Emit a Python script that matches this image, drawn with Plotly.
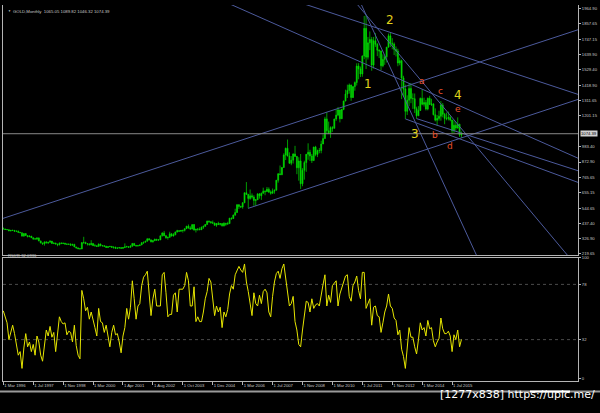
import plotly.graph_objects as go
from plotly.subplots import make_subplots

# ------------------------------------------------------------------ data
tick_bars = [0, 16, 32, 48, 64, 80, 96, 112, 128, 144, 160, 176, 192, 208, 224, 240]
tick_labels = ["1 Mar 1996", "1 Jul 1997", "1 Nov 1998", "1 Mar 2000", "1 Apr 2001",
               "1 Aug 2002", "1 Oct 2003", "1 Dec 2004", "1 Mar 2006", "1 Jul 2007",
               "1 Nov 2008", "1 Mar 2010", "1 Jul 2011", "1 Nov 2012", "1 Mar 2014",
               "1 Jul 2015"]
price_ticks = [1964.90, 1857.65, 1747.15, 1639.90, 1529.40, 1418.90, 1311.65, 1201.15,
               983.40, 872.90, 765.65, 655.15, 544.65, 437.40, 326.90, 219.65]
last_price = 1074.39
title_text = "GOLD,Monthly  1065.05 1089.82 1046.32 1074.39"
rsi_title = "RSI(8) 32.0936"
rsi_ticks = [100, 78, 32, 0]
rsi_levels = [78, 32]

first_open = 397.0
high = [407, 397, 395, 391, 388, 390, 387, 386, 385, 374,
        370, 366, 358, 349, 350, 346, 335, 329, 335, 335, 312, 298,
        305, 306, 303, 315, 302, 298, 297, 291, 300, 302, 299, 297,
        293, 292, 294, 290, 290, 268, 264, 260, 300, 340, 305, 294,
        293, 316,
        293, 289, 279, 293, 292, 282, 278, 275, 271, 275, 272, 269, 268, 264, 266, 264,
        266, 293, 276, 272, 280, 294, 294, 282, 282, 284, 303, 303, 310, 328, 330, 322,
        316, 326, 324, 323, 349, 372, 382, 352, 341, 376, 365, 366, 376, 390, 386, 389,
        390, 400, 417, 428, 415, 427, 431, 396, 401, 408, 413, 419, 430, 455, 456, 452,
        456, 442, 437, 447, 437, 436, 443, 437, 447, 474, 478, 498, 540, 573, 573, 562,
        587, 654, 730, 643, 677, 649, 636, 608, 649, 650,
        655, 690, 671, 695, 692, 671, 684, 676, 744, 793, 848, 836,
        935, 975, 1033, 942, 915, 935, 988, 916, 907, 930, 829, 882,
        930, 1006, 960, 930, 982, 988, 961, 973, 1025, 1070, 1195, 1227,
        1161, 1127, 1128, 1181, 1249, 1265, 1243, 1250, 1310, 1388, 1424, 1432,
        1424, 1411, 1447, 1576, 1577, 1553, 1632, 1913, 1921, 1764, 1803, 1764,
        1764, 1791, 1720, 1676, 1667, 1640, 1630, 1693, 1788, 1796, 1755, 1725,
        1696, 1680, 1617, 1603, 1487, 1424, 1348, 1433, 1434, 1362, 1361, 1267,
        1271, 1332, 1392, 1331, 1315, 1332, 1345, 1323, 1291, 1255, 1208, 1238,
        1307, 1293, 1223, 1225, 1232, 1206, 1174, 1170, 1157, 1191, 1145, 1089.82]
low = [395, 389, 388, 381, 379, 384, 378, 377, 370, 367,
       342, 341, 347, 337, 339, 333, 318, 319, 317, 308, 294, 283,
       277, 294, 289, 300, 289, 288, 287, 273, 278, 288, 289, 285,
       283, 282, 279, 278, 267, 257, 252, 251, 252, 290, 288, 278,
       280, 280,
       275, 272, 268, 270, 273, 271, 267, 263, 261, 267, 262, 255, 255, 256, 257, 255,
       255, 263, 265, 262, 264, 271, 276, 271, 272, 276, 281, 289, 299, 307, 315, 301,
       299, 311, 313, 314, 317, 343, 346, 326, 320, 334, 342, 342, 352, 370, 374, 376,
       370, 378, 396, 398, 390, 393, 385, 371, 383, 387, 388, 396, 411, 426, 440, 435,
       432, 420, 411, 424, 421, 414, 414, 418, 429, 432, 461, 467, 489, 515, 539, 545,
       540, 582, 638, 543, 604, 612, 561, 560, 602, 612,
       603, 648, 636, 661, 652, 640, 648, 647, 671, 726, 780, 779,
       833, 887, 913, 860, 850, 862, 909, 786, 740, 681, 700, 747,
       803, 889, 880, 866, 884, 914, 908, 935, 935, 1001, 1041, 1075,
       1072, 1045, 1088, 1111, 1166, 1199, 1155, 1180, 1242, 1314, 1329, 1360,
       1309, 1329, 1381, 1418, 1462, 1478, 1480, 1605, 1535, 1603, 1670, 1523,
       1539, 1693, 1627, 1613, 1527, 1548, 1565, 1582, 1689, 1692, 1676, 1635,
       1625, 1555, 1562, 1321, 1338, 1180, 1208, 1271, 1292, 1251, 1222, 1182,
       1202, 1237, 1277, 1268, 1240, 1241, 1280, 1272, 1205, 1162, 1131, 1168,
       1167, 1191, 1142, 1170, 1169, 1163, 1077, 1080, 1097, 1110, 1052, 1046.32]
close = [396, 392, 391, 382, 386, 386, 379, 379, 372, 369,
         345, 363, 349, 340, 345, 334, 326, 325, 332, 311, 296, 290,
         304, 297, 301, 309, 293, 296, 288, 284, 294, 292, 294, 288,
         287, 287, 280, 286, 268, 261, 255, 254, 299, 300, 291, 290,
         283, 293,
         277, 276, 272, 288, 276, 277, 273, 264, 270, 272, 265, 267, 258, 260, 263, 258,
         263, 268, 270, 265, 273, 293, 279, 275, 277, 282, 297, 302, 309, 326, 318, 304,
         312, 323, 316, 318, 347, 367, 347, 334, 336, 361, 346, 354, 375, 384, 380, 385,
         386, 398, 416, 403, 396, 427, 388, 394, 395, 391, 408, 415, 428, 452, 447, 440,
         438, 422, 435, 427, 435, 418, 437, 430, 434, 473, 470, 495, 513, 568, 556, 553,
         582, 654, 643, 613, 632, 623, 599, 604, 646, 632,
         650, 665, 662, 679, 659, 650, 665, 672, 743, 789, 783, 834,
         923, 971, 916, 864, 886, 930, 913, 832, 880, 718, 814, 869,
         928, 942, 916, 883, 979, 927, 954, 955, 1001, 1040, 1180, 1096,
         1081, 1118, 1113, 1179, 1207, 1244, 1181, 1248, 1307, 1357, 1383, 1421,
         1332, 1410, 1439, 1556, 1536, 1500, 1628, 1825, 1620, 1722, 1746, 1564,
         1737, 1711, 1669, 1664, 1559, 1604, 1622, 1691, 1772, 1719, 1713, 1675,
         1663, 1578, 1595, 1472, 1393, 1234, 1313, 1396, 1326, 1324, 1253, 1202,
         1240, 1326, 1284, 1296, 1250, 1327, 1282, 1287, 1210, 1171, 1183, 1199,
         1279, 1213, 1183, 1182, 1190, 1172, 1095, 1135, 1115, 1142, 1065, 1074.39]
rsi = [56, 50, 46, 32, 38, 44, 37, 28, 19, 22, 8, 25, 37, 26, 30, 22, 28, 19, 35, 30,
       19, 14, 28, 40, 35, 43, 34, 38, 22, 40, 51, 47, 45, 46, 36, 39, 38, 30, 44, 27,
       19, 16, 73, 66, 56, 59, 49, 55, 47, 42, 35, 58, 47, 46, 38, 44, 35, 26, 38, 44,
       36, 37, 30, 21, 35, 42, 58, 49, 59, 81, 66, 49, 60, 62, 77, 84, 86, 89, 70, 52,
       66, 74, 60, 60, 60, 86, 88, 71, 51, 53, 53, 69, 71, 55, 74, 74, 74, 77, 88, 81,
       60, 60, 76, 47, 51, 47, 47, 55, 66, 72, 83, 80, 68, 52, 60, 55, 59, 42, 55, 51,
       57, 70, 77, 74, 86, 90, 93, 90, 88, 95, 80, 72, 62, 52, 71, 62, 60, 69, 62, 72,
       74, 71, 55, 51, 68, 80, 87, 89, 83, 91, 95, 82, 68, 60, 62, 68, 47, 40, 28, 26,
       40, 55, 64, 63, 55, 66, 58, 61, 62, 60, 71, 78, 86, 60, 69, 63, 77, 79, 81, 60,
       70, 75, 80, 85, 86, 68, 64, 77, 80, 85, 73, 66, 88, 88, 58, 62, 66, 44, 59, 60,
       52, 51, 38, 46, 55, 60, 70, 60, 58, 50, 48, 36, 40, 24, 18, 8, 28, 42, 34, 34,
       26, 20, 32, 46, 40, 42, 35, 48, 41, 42, 31, 26, 30, 33, 50, 41, 37, 37, 39, 35,
       22, 36, 32, 40, 26, 32.09]

# trendlines: anchor bar, anchor price, slope (price per bar), starts at anchor?
trend_bar = [0, 131, 207, 194, 194, 217, 221, 215]
trend_price = [472, 543, 1796, 1921, 1921, 1433, 1182, 1180]
trend_slope = [4.37, 4.4, -4.4, -29.0, -15.9, -5.9, -4.3, -4.9]
trend_ray = [False, True, False, False, False, False, True, True]

wave_text = ["1", "2", "3", "4"]
wave_bar = [195, 207, 220, 243]
wave_price = [1428, 1883, 1070, 1350]
sub_text = ["a", "b", "c", "d", "e"]
sub_bar = [224, 231, 234, 239, 243]
sub_price = [1447, 1063, 1381, 988, 1247]

# ------------------------------------------------------------------ layout helpers
W, H = 600, 413
ML, MR, MT, MB = 3, 22, 2, 32
PW, PH = W - ML - MR, H - MT - MB


def py(px):  # pixel row -> paper y
    return (H - MB - px) / PH


def pxx(px):  # pixel column -> paper x
    return (px - ML) / PW


X_RANGE = [-0.16, -0.16 + PW / 1.87]
GRID = "#b4b4b4"
TREND = "#4c5a9c"
TXT = "#c8c8c8"
FONT = "Liberation Sans"

open_ = [first_open] + close[:-1]
bars = list(range(len(close)))

fig = make_subplots(rows=2, cols=1, shared_xaxes=True)

fig.add_trace(go.Candlestick(
    x=bars, open=open_, high=high, low=low, close=close,
    increasing=dict(line=dict(color="#00dd00", width=0.7), fillcolor="#00dd00"),
    decreasing=dict(line=dict(color="#00dd00", width=0.7), fillcolor="#00dd00"),
    whiskerwidth=0, hoverinfo="skip", showlegend=False), row=1, col=1)

# trendlines
for b, p, s, ray in zip(trend_bar, trend_price, trend_slope, trend_ray):
    xs = [b if ray else X_RANGE[0], X_RANGE[1]]
    ys = [p + s * (x - b) for x in xs]
    fig.add_trace(go.Scatter(x=xs, y=ys, mode="lines", line=dict(color=TREND, width=1),
                             hoverinfo="skip", showlegend=False), row=1, col=1)

# last price line
fig.add_trace(go.Scatter(x=X_RANGE, y=[last_price, last_price], mode="lines",
                         line=dict(color="#8a8a8a", width=1), hoverinfo="skip",
                         showlegend=False), row=1, col=1)

# RSI
for lv in rsi_levels:
    fig.add_trace(go.Scatter(x=X_RANGE, y=[lv, lv], mode="lines",
                             line=dict(color="#4a4a4a", width=1, dash="dot"),
                             hoverinfo="skip", showlegend=False), row=2, col=1)
fig.add_trace(go.Scatter(x=bars, y=rsi, mode="lines",
                         line=dict(color="#e6e600", width=1), hoverinfo="skip",
                         showlegend=False), row=2, col=1)

axis_common = dict(showgrid=False, zeroline=False, linecolor=GRID, linewidth=1,
                   tickcolor=GRID, tickfont=dict(size=4.2, color=TXT, family=FONT))

fig.update_layout(
    width=W, height=H, paper_bgcolor="black", plot_bgcolor="black",
    margin=dict(l=ML, r=MR, t=MT, b=MB), showlegend=False,
    xaxis=dict(range=X_RANGE, showline=True, mirror=False, showticklabels=False,
               ticks="", rangeslider=dict(visible=False), **axis_common),
    xaxis2=dict(range=X_RANGE, showline=True, mirror=True, ticks="outside", ticklen=3,
                tickvals=tick_bars, ticktext=tick_labels, ticklabelposition="outside right",
                tickangle=0, **axis_common),
    yaxis=dict(domain=[py(254), 1], range=[210.4, 1991.4], side="right", showline=True,
               mirror=True, ticks="outside", ticklen=2, tickvals=price_ticks,
               ticktext=[f"{v:.2f}" for v in price_ticks], **axis_common),
    yaxis2=dict(domain=[0, py(257)], range=[-2.48, 100], side="right", showline=True,
                mirror=True, ticks="outside", ticklen=2, tickvals=rsi_ticks,
                ticktext=[str(v) for v in rsi_ticks], **axis_common),
)

ann = []
for t, b, p in zip(wave_text, wave_bar, wave_price):
    ann.append(dict(x=b, y=p, xref="x", yref="y", text=t, showarrow=False,
                    font=dict(size=12, color="#e0d21a", family="DejaVu Sans")))
for t, b, p in zip(sub_text, sub_bar, sub_price):
    ann.append(dict(x=b, y=p, xref="x", yref="y", text=t, showarrow=False,
                    font=dict(size=9, color="#e8502a", family="DejaVu Sans")))
ann.append(dict(x=1.004, y=last_price, xref="paper", yref="y", text=f"{last_price:.2f}",
                showarrow=False, xanchor="left", bgcolor="#d0d0d0", borderpad=0,
                font=dict(size=4.2, color="black", family=FONT)))
ann.append(dict(x=pxx(11), y=py(4), xref="paper", yref="paper", text=title_text,
                showarrow=False, xanchor="left", font=dict(size=4.3, color=TXT, family=FONT)))
ann.append(dict(x=pxx(6), y=py(4), xref="paper", yref="paper", text="▼",
                showarrow=False, font=dict(size=3, color=TXT, family=FONT)))
ann.append(dict(x=pxx(6), y=py(259), xref="paper", yref="paper", text=rsi_title,
                showarrow=False, xanchor="left", font=dict(size=4.2, color=TXT, family=FONT)))
ann.append(dict(x=pxx(597), y=py(403), xref="paper", yref="paper",
                text="[1277x838] https://upic.me/", showarrow=False, xanchor="right",
                font=dict(size=11, color="white", family="DejaVu Sans")))
fig.update_layout(annotations=ann)

fig.update_layout(shapes=[
    dict(type="line", xref="paper", yref="paper", x0=pxx(0), x1=pxx(600),
         y0=py(391.5), y1=py(391.5), line=dict(color="#9a9a9a", width=2)),
    dict(type="line", xref="paper", yref="paper", x0=pxx(530), x1=pxx(570),
         y0=py(391.5), y1=py(391.5), line=dict(color="#ffffff", width=2)),
])

fig.write_html("out.html", config={"displayModeBar": False},
               post_script="document.body.style.margin='0px';document.body.style.padding='0px';")
